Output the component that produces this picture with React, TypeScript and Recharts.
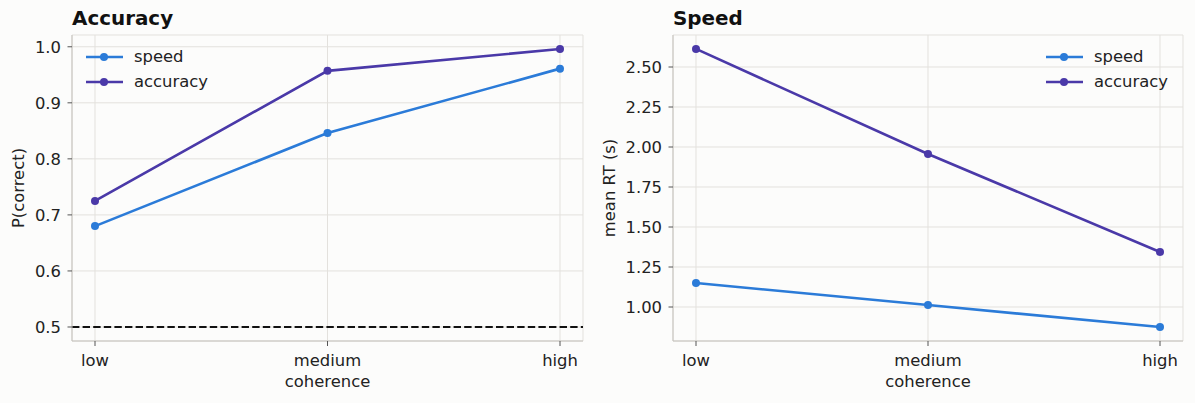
import React from "react";
import {
  LineChart,
  Line,
  XAxis,
  YAxis,
  CartesianGrid,
  ReferenceLine,
} from "recharts";

const coherence = ["low", "medium", "high"];
const accSpeed = [0.68, 0.846, 0.961];
const accAccuracy = [0.725, 0.957, 0.996];
const rtSpeed = [1.15, 1.012, 0.875];
const rtAccuracy = [2.613, 1.956, 1.344];
const accTicks = [0.5, 0.6, 0.7, 0.8, 0.9, 1.0];
const rtTicks = [1.0, 1.25, 1.5, 1.75, 2.0, 2.25, 2.5];
const seriesNames = ["speed", "accuracy"];

const SPEED = "#2b7bd8";
const ACC = "#4a39a8";
const colors: Record<string, string> = { speed: SPEED, accuracy: ACC };
const FONT = "'DejaVu Sans', sans-serif";
const GRID = "#e3e1dd";
const SPINE = "#c4c2bc";

const accData = coherence.map((c, i) => ({ c, speed: accSpeed[i], accuracy: accAccuracy[i] }));
const rtData = coherence.map((c, i) => ({ c, speed: rtSpeed[i], accuracy: rtAccuracy[i] }));

const tickStyle = { fill: "#222", fontSize: 16.4, fontFamily: FONT };

// legend drawn as a plain overlay so it doesn't eat into the plot area
const LegendBox = ({ left }: { left: number }) => (
  <div style={{ position: "absolute", left, top: 44, fontFamily: FONT, fontSize: 16.4, color: "#222" }}>
    {seriesNames.map((n) => (
      <div key={n} style={{ height: 25, display: "flex", alignItems: "center" }}>
        <svg width={37} height={10}>
          <line x1={0} y1={5} x2={37} y2={5} stroke={colors[n]} strokeWidth={2.6} />
          <circle cx={18} cy={5} r={4} fill={colors[n]} />
        </svg>
        <span style={{ marginLeft: 11 }}>{n}</span>
      </div>
    ))}
  </div>
);

const Title = ({ left, text }: { left: number; text: string }) => (
  <div
    style={{
      position: "absolute",
      left,
      top: 9,
      fontFamily: FONT,
      fontWeight: "bold",
      fontSize: 19.9,
      lineHeight: "20px",
      color: "#111",
    }}
  >
    {text}
  </div>
);

const series = (key: string) => (
  <Line
    key={key}
    type="linear"
    dataKey={key}
    name={key}
    stroke={colors[key]}
    strokeWidth={2.6}
    dot={{ r: 4, fill: colors[key], stroke: "none" }}
    activeDot={false}
    isAnimationActive={false}
  />
);

const xAxis = () => (
  <XAxis
    dataKey="c"
    padding={{ left: 23, right: 23 }}
    height={62}
    stroke={SPINE}
    tickSize={5}
    tickMargin={8}
    tickLine={{ stroke: "#555" }}
    tick={tickStyle}
    label={{ value: "coherence", position: "insideBottom", offset: 16, style: tickStyle }}
  />
);

const App: React.FC = () => {
  return (
    <div
      style={{
        position: "absolute",
        left: 0,
        top: 0,
        width: 1195,
        height: 403,
        background: "#fcfcfb",
        overflow: "hidden",
      }}
    >
      <div style={{ position: "absolute", left: 0, top: 0 }}>
        <LineChart width={597} height={403} data={accData} margin={{ top: 35, right: 14, bottom: 0, left: 0 }}>
          <CartesianGrid stroke={GRID} strokeWidth={1} />
          {xAxis()}
          <YAxis
            type="number"
            domain={[0.475, 1.021]}
            ticks={accTicks}
            tickFormatter={(v: number) => v.toFixed(1)}
            width={72}
            stroke={SPINE}
            tickSize={4.5}
            tickMargin={6.5}
            tickLine={{ stroke: "#555" }}
            tick={tickStyle}
            allowDataOverflow
            label={{
              value: "P(correct)",
              angle: -90,
              position: "insideLeft",
              offset: 18,
              style: { ...tickStyle, textAnchor: "middle" },
            }}
          />
          <ReferenceLine y={0.5} stroke="#111" strokeWidth={2} strokeDasharray="7.4 3.2" />
          {seriesNames.map(series)}
        </LineChart>
      </div>
      <div style={{ position: "absolute", left: 597, top: 0 }}>
        <LineChart width={598} height={403} data={rtData} margin={{ top: 35, right: 12, bottom: 0, left: 0 }}>
          <CartesianGrid stroke={GRID} strokeWidth={1} />
          {xAxis()}
          <YAxis
            type="number"
            domain={[0.7875, 2.7]}
            ticks={rtTicks}
            tickFormatter={(v: number) => v.toFixed(2)}
            width={76}
            stroke={SPINE}
            tickSize={4.5}
            tickMargin={6.5}
            tickLine={{ stroke: "#555" }}
            tick={tickStyle}
            allowDataOverflow
            label={{
              value: "mean RT (s)",
              angle: -90,
              position: "insideLeft",
              offset: 12,
              style: { ...tickStyle, textAnchor: "middle" },
            }}
          />
          {seriesNames.map(series)}
        </LineChart>
      </div>
      <LegendBox left={86} />
      <LegendBox left={1046} />
      <Title left={72} text="Accuracy" />
      <Title left={673} text="Speed" />
    </div>
  );
};

export default App;
